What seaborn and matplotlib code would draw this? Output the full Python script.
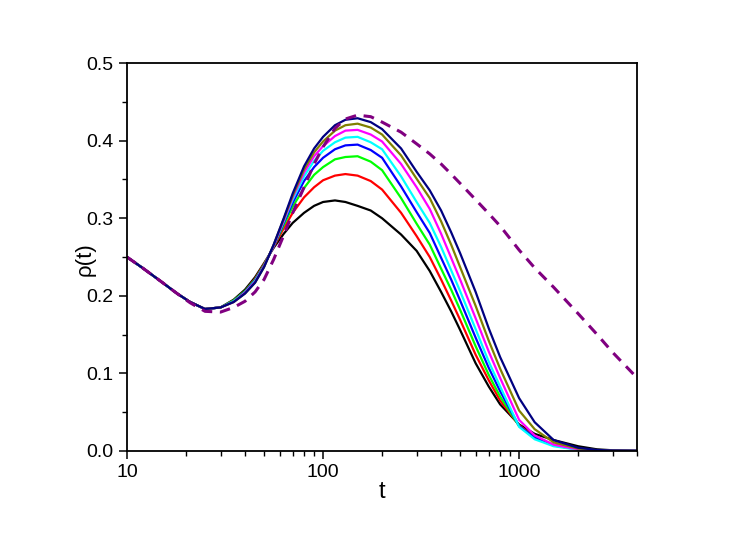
import matplotlib
matplotlib.use("Agg")
import matplotlib.pyplot as plt
import matplotlib.ticker as mticker
import pandas as pd
import seaborn as sns

# time grid (log axis)
t_vals = [10, 12, 15, 18, 21, 25, 30, 35, 40, 45, 50, 56, 63, 70, 80, 90, 100, 115, 130,
          150, 175, 200, 250, 300, 350, 400, 450, 500, 600, 700, 800, 1000, 1200, 1500,
          2000, 2500, 3000, 4000]

# shared early part of the solid curves (t = 10 .. 30)
rho_early = [0.250, 0.236, 0.218, 0.203, 0.192, 0.183, 0.185]

# solid curves from t = 35 onward
rho_black = [0.195, 0.208, 0.224, 0.242, 0.262, 0.280, 0.294, 0.307, 0.316, 0.321, 0.323, 0.321,
             0.316, 0.310, 0.300, 0.279, 0.258, 0.232, 0.205, 0.180, 0.156, 0.113, 0.083, 0.060,
             0.034, 0.022, 0.014, 0.006, 0.002, 0.0008, 0.0001]
rho_red = [0.194, 0.206, 0.222, 0.241, 0.263, 0.287, 0.307, 0.327, 0.340, 0.349, 0.355, 0.357,
           0.355, 0.348, 0.337, 0.307, 0.277, 0.250, 0.221, 0.194, 0.169, 0.124, 0.091, 0.065,
           0.033, 0.018, 0.008, 0.002, 0.0007, 0.0003, 0.0001]
rho_green = [0.194, 0.206, 0.221, 0.240, 0.264, 0.291, 0.315, 0.339, 0.356, 0.366, 0.376, 0.379,
             0.380, 0.373, 0.362, 0.326, 0.293, 0.266, 0.235, 0.208, 0.182, 0.135, 0.098, 0.070,
             0.032, 0.017, 0.007, 0.002, 0.0007, 0.0003, 0.0001]
rho_blue = [0.193, 0.205, 0.220, 0.239, 0.264, 0.294, 0.320, 0.348, 0.366, 0.378, 0.389, 0.394,
            0.395, 0.388, 0.378, 0.341, 0.308, 0.281, 0.249, 0.221, 0.194, 0.146, 0.107, 0.077,
            0.032, 0.017, 0.007, 0.002, 0.0007, 0.0003, 0.0001]
rho_cyan = [0.193, 0.204, 0.219, 0.238, 0.265, 0.296, 0.324, 0.354, 0.374, 0.387, 0.398, 0.404,
            0.405, 0.398, 0.389, 0.354, 0.321, 0.294, 0.263, 0.233, 0.206, 0.157, 0.115, 0.083,
            0.031, 0.015, 0.006, 0.0015, 0.0005, 0.0002, 0.0001]
rho_magenta = [0.192, 0.204, 0.218, 0.238, 0.265, 0.297, 0.327, 0.359, 0.380, 0.393, 0.406, 0.413,
               0.414, 0.408, 0.399, 0.370, 0.340, 0.312, 0.280, 0.249, 0.221, 0.171, 0.128, 0.094,
               0.040, 0.020, 0.008, 0.002, 0.0007, 0.0003, 0.0001]
rho_olive = [0.192, 0.203, 0.217, 0.237, 0.266, 0.299, 0.329, 0.363, 0.385, 0.399, 0.413, 0.420,
             0.422, 0.417, 0.408, 0.381, 0.351, 0.326, 0.296, 0.266, 0.237, 0.187, 0.142, 0.106,
             0.052, 0.028, 0.011, 0.003, 0.001, 0.0004, 0.0001]
rho_navy = [0.192, 0.203, 0.217, 0.237, 0.266, 0.300, 0.332, 0.367, 0.390, 0.405, 0.420, 0.427,
            0.429, 0.424, 0.415, 0.390, 0.360, 0.336, 0.310, 0.282, 0.255, 0.205, 0.158, 0.121,
            0.068, 0.037, 0.014, 0.004, 0.0012, 0.0005, 0.0001]

# dashed reference curve (full grid)
rho_dashed = [0.250, 0.236, 0.218, 0.203, 0.191, 0.180, 0.179, 0.185, 0.193, 0.205, 0.221, 0.247,
              0.278, 0.307, 0.340, 0.370, 0.392, 0.416, 0.428, 0.433, 0.431, 0.424, 0.411, 0.396,
              0.383, 0.370, 0.357, 0.345, 0.324, 0.306, 0.290, 0.259, 0.236, 0.211, 0.177, 0.150,
              0.127, 0.094]

solid = [
    ("black", rho_black, "#000000"),
    ("red", rho_red, "#FF0000"),
    ("green", rho_green, "#00FF00"),
    ("blue", rho_blue, "#0000FF"),
    ("cyan", rho_cyan, "#00FFFF"),
    ("magenta", rho_magenta, "#FF00FF"),
    ("olive", rho_olive, "#808000"),
    ("navy", rho_navy, "#000080"),
]

sns.set_style("ticks", {"axes.edgecolor": "black", "xtick.color": "black",
                        "ytick.color": "black", "text.color": "black",
                        "axes.labelcolor": "black"})
plt.rcParams["font.family"] = ["Liberation Sans", "DejaVu Sans"]

fig = plt.figure(figsize=(7.47, 5.40), dpi=100)
ax = fig.add_axes([0.170, 0.165, 0.683, 0.718])

for name, vals, color in solid:
    frame = pd.DataFrame({"t": t_vals, "rho": rho_early + vals})
    sns.lineplot(data=frame, x="t", y="rho", color=color, linewidth=1.6, ax=ax)

dashed = pd.DataFrame({"t": t_vals, "rho": rho_dashed})
sns.lineplot(data=dashed, x="t", y="rho", color="#800080", linewidth=2.2, ax=ax)
ax.lines[-1].set_dashes([3.5, 2.5])

ax.set_xscale("log")
ax.set_xlim(10, 4000)
ax.set_ylim(0, 0.5)
ax.xaxis.set_major_locator(mticker.FixedLocator([10, 100, 1000]))
ax.xaxis.set_major_formatter(mticker.FormatStrFormatter("%d"))
ax.xaxis.set_minor_locator(mticker.LogLocator(base=10, subs=range(2, 10)))
ax.xaxis.set_minor_formatter(mticker.NullFormatter())
ax.yaxis.set_major_locator(mticker.MultipleLocator(0.1))
ax.yaxis.set_minor_locator(mticker.MultipleLocator(0.05))
ax.yaxis.set_major_formatter(mticker.FormatStrFormatter("%.1f"))

ax.tick_params(which="major", direction="out", length=6, width=1.1, labelsize=14,
               colors="black", top=False, right=False)
ax.tick_params(which="minor", direction="out", length=3.5, width=1.0, colors="black",
               top=False, right=False)
for side in ax.spines.values():
    side.set_linewidth(1.3)
    side.set_color("black")
    side.set_visible(True)

ax.set_xlabel("t", fontsize=17, labelpad=0, color="black")
ax.set_ylabel("ρ(t)", fontsize=16, color="black")
ax.yaxis.set_label_coords(-0.062, 0.495)

fig.savefig("out.png", dpi=100)
